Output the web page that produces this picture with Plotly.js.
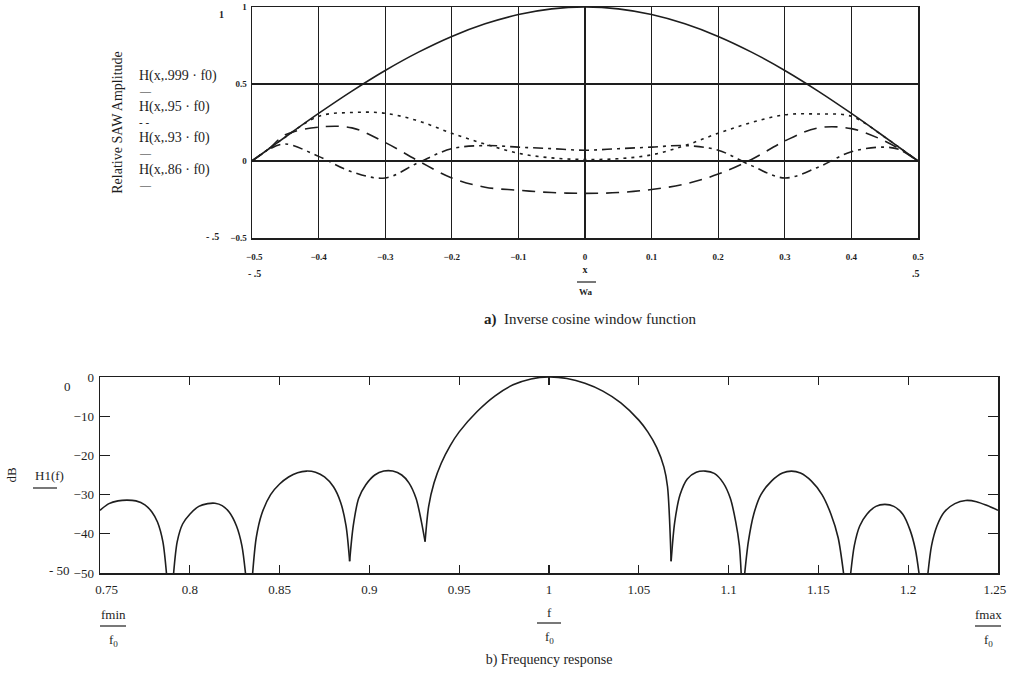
<!DOCTYPE html>
<html><head><meta charset="utf-8">
<script src="https://cdn.plot.ly/plotly-3.0.1.min.js"></script>
<style>body{margin:0;background:#fff}#g{width:1013px;height:676px}</style>
</head><body><div id="g"></div>
<script>
// ---- top plot: relative SAW amplitude vs x/Wa ----
const xw = [-0.5,-0.475,-0.45,-0.4,-0.35,-0.3,-0.25,-0.2,-0.15,-0.1,-0.05,0,0.05,0.1,0.15,0.2,0.25,0.3,0.35,0.4,0.45,0.475,0.5];
const h999 = [0,0.078,0.156,0.309,0.454,0.588,0.707,0.809,0.891,0.951,0.988,1.0,0.988,0.951,0.891,0.809,0.707,0.588,0.454,0.309,0.156,0.078,0];
const h95  = [0,0.078,0.155,0.29,0.315,0.31,0.26,0.18,0.11,0.05,0.02,0.01,0.015,0.04,0.1,0.18,0.25,0.3,0.305,0.29,0.155,0.078,0];
const h93  = [0,0.078,0.17,0.22,0.215,0.12,0.0,-0.11,-0.17,-0.19,-0.205,-0.21,-0.205,-0.185,-0.15,-0.085,0.01,0.13,0.215,0.21,0.13,0.07,0];
const h86  = [0,0.075,0.11,0.03,-0.07,-0.11,-0.01,0.08,0.1,0.09,0.08,0.07,0.08,0.09,0.1,0.07,-0.03,-0.11,-0.04,0.06,0.09,0.07,0];
const topXTicks = [-0.5,-0.4,-0.3,-0.2,-0.1,0,0.1,0.2,0.3,0.4,0.5];
const topXLabels = ['\u00a0\u00a0\u22120.5','\u22120.4','\u22120.3','\u22120.2','\u22120.1','0','0.1','0.2','0.3','0.4','0.5'];
const topYTicks = [-0.5,0,0.5,1];
const legendLabels = ["H(x,.999 · f0)","H(x,.95 · f0)","H(x,.93 · f0)","H(x,.86 · f0)"];

// ---- bottom plot: frequency response (dB), null = break between lobes ----
const freq = [
 0.75,0.755,0.76,0.765,0.77,0.775,0.779,0.782,0.785,0.787, 0.789,
 0.791,0.793,0.796,0.8,0.805,0.81,0.814,0.818,0.822,0.826,0.829,0.831, 0.833,
 0.835,0.837,0.84,0.845,0.85,0.855,0.86,0.865,0.87,0.875,0.88,0.884,0.887,0.889, 0.889,
 0.889,0.891,0.894,0.898,0.903,0.908,0.913,0.918,0.922,0.926,0.929,0.931, 0.931,
 0.931,0.933,0.936,0.94,0.945,0.95,0.96,0.97,0.98,0.99,1.0,1.01,1.02,1.03,1.04,1.05,1.055,1.06,1.064,1.066,1.068, 1.068,
 1.068,1.07,1.073,1.077,1.082,1.087,1.092,1.097,1.101,1.104,1.106,1.107, 1.108,
 1.109,1.111,1.114,1.118,1.124,1.13,1.135,1.14,1.146,1.152,1.157,1.161,1.164, 1.166,
 1.168,1.17,1.173,1.177,1.182,1.187,1.192,1.197,1.201,1.204,1.206, 1.208,
 1.211,1.213,1.216,1.22,1.226,1.232,1.238,1.244,1.25];
const dB = [
 -34,-32.3,-31.6,-31.4,-31.6,-32.6,-34.5,-37,-42,-50, null,
 -50,-42,-37.5,-35,-33,-32.3,-32.2,-32.8,-34.5,-38,-43,-50, null,
 -50,-41,-35,-30,-27.3,-25.5,-24.4,-24,-24.3,-25.5,-28,-32,-38,-47, null,
 -47,-38,-31,-27.5,-25,-24,-24,-25,-27,-31,-37,-42, null,
 -42,-33,-27,-22,-17.5,-14,-8.8,-4.8,-2,-0.5,0,-0.4,-1.6,-3.6,-6.6,-11,-14,-18,-23,-28,-47, null,
 -47,-37,-30,-26,-24.3,-24,-24.6,-27,-31,-37,-43,-50, null,
 -50,-42,-35,-30,-26.5,-24.5,-24,-24.5,-26.5,-30,-35,-41,-50, null,
 -50,-43,-38,-35,-33,-32.5,-33,-35,-39,-44,-50, null,
 -50,-43,-38,-34.5,-32.3,-31.5,-31.8,-32.8,-34];
const botXTicks = [0.75,0.8,0.85,0.9,0.95,1,1.05,1.1,1.15,1.2,1.25];
const botXLabels = ['\u00a0\u00a0\u00a0\u00a00.75','0.8','0.85','0.9','0.95','1','1.05','1.1','1.15','1.2','1.25\u00a0\u00a0'];
const botYTicks = [0,-10,-20,-30,-40,-50];

const INK = '#1e1e1e';
const SERIF = '"Liberation Serif","DejaVu Serif",serif';
const W = 1013, H = 676;
const px = v => v / W, py = v => 1 - v / H;

const traces = [
 {x:xw, y:h999, xaxis:'x', yaxis:'y', mode:'lines', line:{color:INK,width:1.6,shape:'spline'}},
 {x:xw, y:h95,  xaxis:'x', yaxis:'y', mode:'lines', line:{color:INK,width:1.6,shape:'spline',dash:'3px,5px'}},
 {x:xw, y:h93,  xaxis:'x', yaxis:'y', mode:'lines', line:{color:INK,width:1.6,shape:'spline',dash:'13px,8px'}},
 {x:xw, y:h86,  xaxis:'x', yaxis:'y', mode:'lines', line:{color:INK,width:1.6,shape:'spline',dash:'10px,5px,3px,5px'}},
 {x:freq, y:dB, xaxis:'x2', yaxis:'y2', mode:'lines', connectgaps:false, line:{color:INK,width:1.6,shape:'spline',smoothing:0.8}}
];

const ann = [];
function txt(x, y, t, size, opts) {
  ann.push(Object.assign({xref:'paper', yref:'paper', x:px(x), y:py(y), text:t, showarrow:false,
    xanchor:'center', yanchor:'middle', font:{family:SERIF, size:size, color:INK}}, opts||{}));
}
// top plot side texts
const legY = [76, 107, 138, 170];
const legMark = ['<b>—</b>', '<b>- -</b>', '<b>—</b>', '<b>—</b>'];
legendLabels.forEach((l, i) => {
  txt(137, legY[i], l, 14, {xanchor:'left'});
  txt(137, legY[i] + 15, legMark[i], 11, {xanchor:'left'});
});
txt(221, 15, '<b>1</b>', 10);
txt(212, 236, '<b>- .5</b>', 10);
txt(254, 273, '<b>- .5</b>', 10);
txt(916, 273, '<b>.5</b>', 10);
txt(586, 292, '<b>Wa</b>', 9);
// bottom plot side texts
txt(67, 386, '0', 13);
txt(59, 570, '- 50', 13);
txt(33, 475, 'H1(f)', 13, {xanchor:'left'});
txt(113, 614, 'fmin', 13);
txt(113, 640, 'f<sub>0</sub>', 13);
txt(549, 612, 'f', 13);
txt(549, 637, 'f<sub>0</sub>', 13);
txt(988, 614, 'fmax', 13);
txt(988, 640, 'f<sub>0</sub>', 13);

const ln = (x0, x1, y) => ({type:'line', xref:'paper', yref:'paper', x0:px(x0), x1:px(x1), y0:py(y), y1:py(y), line:{color:INK, width:1.2}});
const shapes = [ln(33, 57, 488), ln(100, 126, 626), ln(537, 561, 623), ln(975, 1001, 626), ln(577, 596, 282)];

const layout = {
  width:W, height:H, autosize:false, margin:{l:0,r:0,t:0,b:0},
  paper_bgcolor:'#fff', plot_bgcolor:'#fff', showlegend:false,
  title:{text:'<b>a)</b>  Inverse cosine window function', xref:'paper', yref:'paper', x:px(590), y:py(319),
    xanchor:'center', yanchor:'middle', font:{family:SERIF, size:15, color:INK}},
  xaxis:{domain:[px(252), px(918)], range:[-0.5,0.5], tickvals:topXTicks, ticktext:topXLabels, showgrid:true, gridcolor:INK, gridwidth:1.2,
    zeroline:false, showline:true, linecolor:INK, linewidth:1.5, mirror:true, ticks:'', ticklabelstandoff:10,
    tickfont:{family:SERIF, size:9, color:INK, weight:'bold'}, anchor:'y',
    title:{text:'<b>x</b>', standoff:4, font:{family:SERIF, size:10, color:INK}}},
  yaxis:{domain:[py(238), py(7)], range:[-0.5,1], tickvals:topYTicks, showgrid:true, gridcolor:INK, gridwidth:1.2,
    zeroline:false, showline:true, linecolor:INK, linewidth:1.5, mirror:true, ticks:'', ticklabelstandoff:2,
    tickfont:{family:SERIF, size:9, color:INK, weight:'bold'}, anchor:'x',
    title:{text:'Relative SAW Amplitude', standoff:104, font:{family:SERIF, size:14, color:INK}}},
  xaxis2:{domain:[px(100), px(998)], range:[0.75,1.25], tickvals:botXTicks, ticktext:botXLabels, showgrid:false, zeroline:false,
    showline:true, linecolor:INK, linewidth:1.5, mirror:'allticks', ticks:'inside', ticklen:8, tickcolor:INK, tickwidth:1.3,
    tickfont:{family:SERIF, size:13, color:INK}, ticklabelstandoff:4, anchor:'y2',
    title:{text:'b) Frequency response', standoff:58, font:{family:SERIF, size:14, color:INK}}},
  yaxis2:{domain:[py(573), py(377)], range:[-50,0], tickvals:botYTicks, showgrid:false, zeroline:false,
    showline:true, linecolor:INK, linewidth:1.5, mirror:'allticks', ticks:'inside', ticklen:10, tickcolor:INK, tickwidth:1.3,
    tickfont:{family:SERIF, size:13, color:INK}, ticklabelstandoff:2, anchor:'x2',
    title:{text:'dB', standoff:54, font:{family:SERIF, size:13, color:INK}}},
  annotations:ann, shapes:shapes
};
Plotly.newPlot('g', traces, layout, {staticPlot:true, displayModeBar:false});
</script></body></html>
